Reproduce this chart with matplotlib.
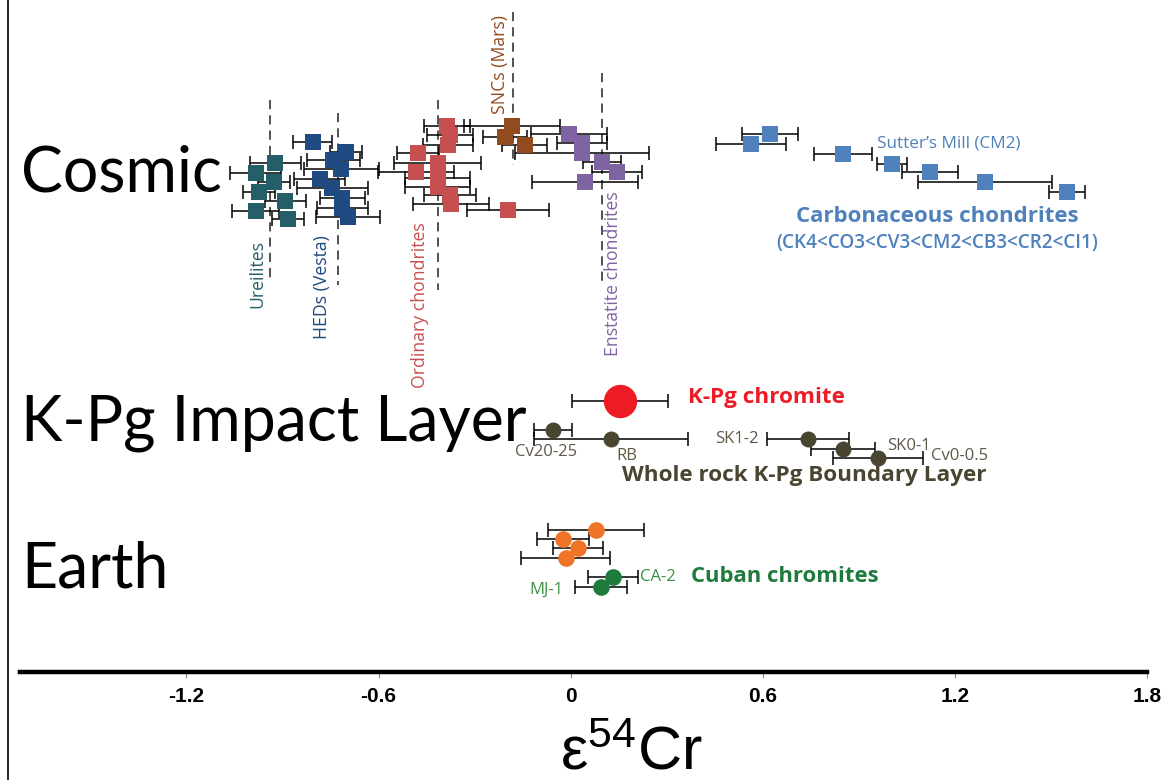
import numpy as np
import matplotlib
matplotlib.use('Agg')
from matplotlib import pyplot as plt
from matplotlib.lines import Line2D

# eps54Cr values, 2-sigma errors and row positions (rows run downwards)
ure_x = [-0.922, -0.984, -0.928, -0.975, -0.984, -0.891, -0.884]
ure_err = [0.08, 0.08, 0.05, 0.05, 0.073, 0.065, 0.05]
ure_row = [163, 173, 182, 192, 211, 201, 219]

hed_x = [-0.806, -0.703, -0.741, -0.716, -0.784, -0.744, -0.713, -0.713, -0.697]
hed_err = [0.06, 0.05, 0.083, 0.117, 0.08, 0.11, 0.07, 0.08, 0.10]
hed_row = [142, 152, 160, 169, 179, 188, 198, 208, 217]

oc_x = [-0.387, -0.378, -0.384, -0.478, -0.416, -0.484, -0.416, -0.416, -0.378, -0.375, -0.197]
oc_err = [0.072, 0.072, 0.078, 0.066, 0.137, 0.119, 0.10, 0.10, 0.081, 0.119, 0.128]
oc_row = [126, 135, 145, 153, 163, 172, 178, 187, 195, 204, 210]

snc_x = [-0.184, -0.206, -0.144]
snc_err = [0.15, 0.069, 0.069]
snc_row = [126, 137, 145]

ec_x = [-0.006, 0.034, 0.036, 0.097, 0.144, 0.044]
ec_err = [0.119, 0.078, 0.209, 0.06, 0.078, 0.166]
ec_row = [134, 143, 153, 162, 172, 182]

cc_x = [0.622, 0.563, 0.850, 1.003, 1.122, 1.294, 1.550]
cc_err = [0.088, 0.11, 0.09, 0.047, 0.088, 0.21, 0.056]
cc_row = [134, 144, 154, 164, 172, 182, 192]

kpg_x = [0.153]
kpg_err = [0.15]
kpg_row = [401]

wr_x = [-0.056, 0.125, 0.741, 0.850, 0.960]
wr_err = [0.06, 0.24, 0.128, 0.10, 0.14]
wr_row = [430, 439, 439, 449, 458]
wr_names = ['Cv20-25', 'RB', 'SK1-2', 'SK0-1', 'Cv0-0.5']

earth_x = [0.078, -0.025, 0.022, -0.016]
earth_err = [0.15, 0.081, 0.078, 0.14]
earth_row = [530, 539, 548, 558]

cuba_x = [0.131, 0.094]
cuba_err = [0.078, 0.081]
cuba_row = [577, 587]

# group means (dashed lines): x, top row, bottom row
mean_x = [-0.94, -0.728, -0.416, -0.181, 0.097]
mean_top = [100, 113, 100, 12, 73]
mean_bot = [283, 285, 290, 165, 283]

xticks = [-1.2, -0.6, 0, 0.6, 1.2, 1.8]
xticklabels = ['-1.2', '-0.6', '0', '0.6', '1.2', '1.8']

c_ure = '#245f68'
c_hed = '#1f4a82'
c_oc = '#c6504f'
c_snc = '#924a1f'
c_ec = '#8064a2'
c_cc = '#4f81bd'
c_kpg = '#ed1c24'
c_wr = '#4a4530'
c_wr_lbl = '#5e5846'
c_earth = '#f07427'
c_cuba = '#1e7b3c'
c_cuba_lbl = '#3c8f45'

sans = ['Open Sans', 'DejaVu Sans']
title_font = ['Lato', 'Open Sans', 'DejaVu Sans']
narrow = ['Liberation Sans Narrow', 'Liberation Sans', 'DejaVu Sans']

W, H = 1162, 780
fig = plt.figure(figsize=(W / 100, H / 100), dpi=100)
ax = fig.add_axes([20 / W, (H - 672) / H, (1147 - 20) / W, 672 / H])
ax.set_xlim(-1.72, 1.80)
ax.set_ylim(672, 0)

def series(x, err, row, color, marker, ms):
    ax.errorbar(x, row, xerr=err, fmt='none', ecolor='black', elinewidth=1.1,
                capsize=5, capthick=1.1, zorder=2)
    ax.plot(x, row, linestyle='none', marker=marker, ms=ms, color=color,
            markeredgewidth=0, zorder=3)

series(ure_x, ure_err, ure_row, c_ure, 's', 12)
series(hed_x, hed_err, hed_row, c_hed, 's', 12)
series(oc_x, oc_err, oc_row, c_oc, 's', 12)
series(snc_x, snc_err, snc_row, c_snc, 's', 12)
series(ec_x, ec_err, ec_row, c_ec, 's', 12)
series(cc_x, cc_err, cc_row, c_cc, 's', 12)
series(kpg_x, kpg_err, kpg_row, c_kpg, 'o', 24)
series(wr_x, wr_err, wr_row, c_wr, 'o', 11.5)
series(earth_x, earth_err, earth_row, c_earth, 'o', 12)
series(cuba_x, cuba_err, cuba_row, c_cuba, 'o', 12)

for mx, t, b in zip(mean_x, mean_top, mean_bot):
    ax.plot([mx, mx], [t, b], color='#222222', lw=1.1, ls=(0, (6, 4)), zorder=1)

# group titles
for txt, row in [('Cosmic', 192), ('K-Pg Impact Layer', 440), ('Earth', 587)]:
    ax.text(-1.716, row, txt, fontsize=45, family=title_font, color='black',
            va='baseline', ha='left')

# vertical group labels
vlabels = [('Ureilites', -0.978, 240, c_ure),
           ('HEDs (Vesta)', -0.778, 235, c_hed),
           ('Ordinary chondrites', -0.472, 222, c_oc),
           ('SNCs (Mars)', -0.222, 15, c_snc),
           ('Enstatite chondrites', 0.131, 191, c_ec)]
for txt, x, top, col in vlabels:
    ax.text(x, top, txt, rotation=90, fontsize=12.7, family=sans, color=col,
            ha='center', va='top')

ax.text(0.956, 144, 'Sutter\u2019s Mill (CM2)', fontsize=12.3, family=sans,
        color=c_cc, ha='left', va='center')
ax.text(1.145, 217, 'Carbonaceous chondrites', fontsize=16, family=sans,
        weight='bold', color=c_cc, ha='center', va='center')
ax.text(1.145, 243, '(CK4<CO3<CV3<CM2<CB3<CR2<CI1)', fontsize=13.6, family=sans,
        weight='semibold', color=c_cc, ha='center', va='center')

ax.text(0.366, 398, 'K-Pg chromite', fontsize=16.2, family=sans, weight='bold',
        color=c_kpg, ha='left', va='center')
wr_lbl_pos = [(-0.175, 452), (0.144, 456), (0.45, 439), (0.988, 446), (1.125, 456)]
for name, (lx, ly) in zip(wr_names, wr_lbl_pos):
    ax.text(lx, ly, name, fontsize=12, family=sans, color=c_wr_lbl,
            ha='left', va='center')
ax.text(0.159, 475, 'Whole rock K-Pg Boundary Layer', fontsize=16.2, family=sans,
        weight='bold', color=c_wr, ha='left', va='center')

ax.text(0.216, 577, 'CA-2', fontsize=12, family=sans, color=c_cuba_lbl,
        ha='left', va='center')
ax.text(-0.128, 590, 'MJ-1', fontsize=12, family=sans, color=c_cuba_lbl,
        ha='left', va='center')
ax.text(0.375, 577, 'Cuban chromites', fontsize=15.9, family=sans, weight='bold',
        color=c_cuba, ha='left', va='center')

# axes styling
for s in ['top', 'left', 'right']:
    ax.spines[s].set_visible(False)
ax.spines['bottom'].set_linewidth(3.2)
ax.set_yticks([])
ax.set_xticks(xticks)
ax.set_xticklabels(xticklabels, fontsize=15, weight='bold', family=narrow)
ax.tick_params(axis='x', length=4, width=0.8, color='#888888', pad=7)

fig.text(631 / W, 1 - 769 / H, r'$\mathregular{\varepsilon^{54}Cr}$', fontsize=44,
         family=['Liberation Sans', 'DejaVu Sans'], ha='center', va='baseline')

# left frame line
fig.add_artist(Line2D([8 / W, 8 / W], [0, 1], color='black', lw=1.2))

fig.savefig('out.png', dpi=100)
